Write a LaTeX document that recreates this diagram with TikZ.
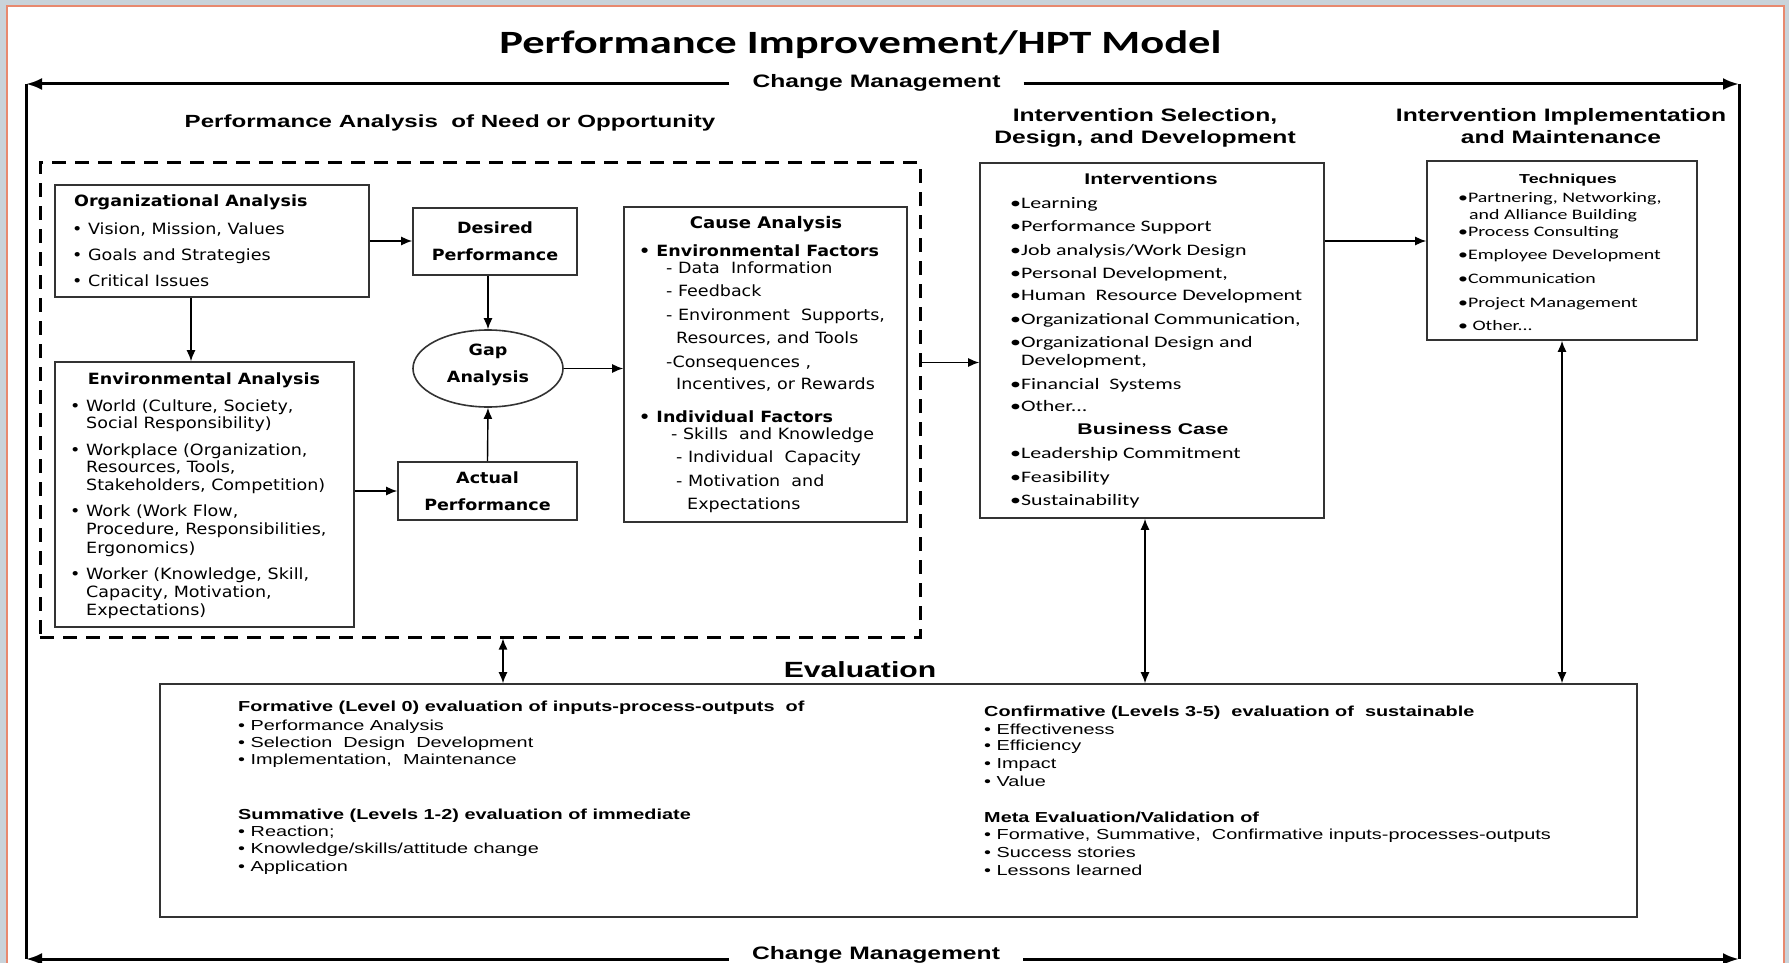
\documentclass[tikz,border=0pt]{standalone}
\usepackage{fontspec}
\usepackage{xcolor}
\usepackage{tikz}
\usetikzlibrary{arrows.meta,positioning,calc,shapes.geometric}

\newfontfamily\vfont{DejaVu Sans}[FakeStretch=1.13]
\newfontfamily\afont{Liberation Sans}[FakeStretch=1.37]
\newfontfamily\cfont{Carlito}[FakeStretch=1.37]

\definecolor{boxgray}{HTML}{333333}
\definecolor{pagebg}{HTML}{C9D3DA}
\definecolor{pageedge}{HTML}{E8896F}

\tikzset{
  box/.style={draw=boxgray, line width=1.6pt, inner sep=0pt},
  dbox/.style={draw=black, line width=3pt, dash pattern=on 14pt off 9pt, inner sep=0pt},
  ln/.style={anchor=west, inner sep=0pt, text height=1.5ex, text depth=.25ex, yshift=-3.5pt},
  hd/.style={anchor=center, inner sep=0pt, text height=1.5ex, text depth=.25ex, yshift=-3.5pt},
  vtxt/.style={font=\vfont\fontsize{15.5}{18}\selectfont},
  vbold/.style={font=\vfont\bfseries\fontsize{15.5}{18}\selectfont},
  ctxt/.style={font=\cfont\fontsize{16}{19}\selectfont},
  atxt/.style={font=\afont\fontsize{14.5}{17}\selectfont},
  abold/.style={font=\afont\bfseries\fontsize{14.5}{17}\selectfont},
  sect/.style={align=center, inner sep=0pt, font=\afont\bfseries\fontsize{18}{22}\selectfont},
  arr/.style={-{Latex[length=11pt,width=9pt]}, line width=1.4pt},
  darr/.style={{Latex[length=11pt,width=9pt]}-{Latex[length=11pt,width=9pt]}, line width=1.4pt},
  cmline/.style={line width=3pt},
  cmarr/.style={line width=3pt, -{Latex[length=16pt,width=12pt]}},
  cmlab/.style={inner xsep=23pt, inner ysep=0pt, font=\afont\bfseries\fontsize{18}{22}\selectfont},
}

\begin{document}
\begin{tikzpicture}[x=1pt, y=-1pt]
  % page
  \useasboundingbox (0,0) rectangle (1789,963);
  \fill[pagebg] (0,0) rectangle (1789,963);
  \filldraw[fill=white, draw=pageedge, line width=2.5pt] (7,6) rectangle (1784,990);

  % title and change management frame
  \node[hd, font=\cfont\bfseries\fontsize{32.5}{38}\selectfont] (title) at (860.5,47.5) {Performance Improvement/HPT Model};
  \coordinate (tl) at (26,84);
  \coordinate (tr) at (1739,84);
  \coordinate (bl) at (26,959);
  \coordinate (br) at (1739,959);
  \node[cmlab] (cmtop) at (876.5,83) {Change Management};
  \node[cmlab] (cmbot) at (876,955) {Change Management};
  \draw[cmline] (tl) -- (bl);
  \draw[cmline] (tr) -- (br);
  \draw[cmarr] (cmtop.west |- tl) -- (tl);
  \draw[cmarr] (cmtop.east |- tr) -- (tr);
  \draw[cmarr] (cmbot.west |- bl) -- (bl);
  \draw[cmarr] (cmbot.east |- br) -- (br);

  % phase headings
  \node[sect, font=\afont\bfseries\fontsize{17.6}{22}\selectfont] (h1) at (450,122.5) {Performance Analysis\ \ of Need or Opportunity};
  \node[sect] (h2) at (1145,128) {Intervention Selection,\\Design, and Development};
  \node[sect] (h3) at (1561,126) {Intervention Implementation\\and Maintenance};

  % performance analysis
  \node[dbox, minimum width=880pt, minimum height=474pt] (pa) at (480,400) {};

  \node[box, minimum width=314pt, minimum height=112pt] (org) at (212,241) {};
  \node[ln, vbold] at (74,200) {Organizational Analysis};
  \foreach \y/\t in {228/{Vision, Mission, Values}, 254/{Goals and Strategies}, 280/{Critical Issues}}
    \node[ln, vtxt] at (72,\y) {\textbullet\ \t};

  \node[box, minimum width=299pt, minimum height=265pt] (env) at (204.5,494.5) {};
  \node[hd, vbold] at (204,378) {Environmental Analysis};
  \foreach \y/\t in {405/{World (Culture, Society,}, 449/{Workplace (Organization,},
                     510/{Work (Work Flow,}, 573/{Worker (Knowledge, Skill,}}
    \node[ln, vtxt] at (70,\y) {\textbullet\ \t};
  \foreach \y/\t in {422/{Social Responsibility)}, 466/{Resources, Tools,}, 484/{Stakeholders, Competition)},
                     528/{Procedure, Responsibilities,}, 547/{Ergonomics)}, 591/{Capacity, Motivation,},
                     609/{Expectations)}}
    \node[ln, vtxt] at (86,\y) {\t};

  \node[box, vbold, align=center, minimum width=164pt, minimum height=67pt] (des) at (495,241.5)
    {Desired\\[9pt]Performance};
  \node[box, ellipse, minimum width=150pt, minimum height=77pt] (gap) at (488,368.5) {};
  \node[vbold, align=center, inner sep=0pt] at ([yshift=3.5pt]gap.center) {Gap\\[9pt]Analysis};
  \node[box, vbold, align=center, minimum width=179pt, minimum height=58pt] (act) at (487.5,491)
    {Actual\\[9pt]Performance};

  \node[box, minimum width=283pt, minimum height=315pt] (cause) at (765.5,364.5) {};
  \node[hd, font=\vfont\bfseries\fontsize{16}{19}\selectfont] at (766,222) {Cause Analysis};
  \foreach \y/\t in {250/{Environmental Factors}, 416/{Individual Factors}}
    \node[ln, vbold] at (639,\y) {\textbullet\ \t};
  \foreach \x/\y/\t in {666/267/{- Data\ \ Information}, 666/290/{- Feedback},
                        666/314/{- Environment\ \ Supports,}, 676/337/{Resources, and Tools},
                        666/361/{-Consequences ,}, 676/383/{Incentives, or Rewards},
                        671/433/{- Skills\ \ and Knowledge}, 676/456/{- Individual\ \ Capacity},
                        676/480/{- Motivation\ \ and}, 687/503/{Expectations}}
    \node[ln, vtxt] at (\x,\y) {\t};

  % intervention selection
  \node[box, minimum width=344pt, minimum height=355pt] (intv) at (1152,340.5) {};
  \node[hd, font=\afont\bfseries\fontsize{15.5}{18}\selectfont] at (1151,178) {Interventions};
  \foreach \y/\t in {202/{Learning}, 225/{Performance Support}, 249/{Job analysis/Work Design},
                     272/{Personal Development,}, 294/{Human\ \ Resource Development},
                     318/{Organizational Communication,}, 341/{Organizational Design and},
                     383/{Financial\ \ Systems}, 405/{Other...},
                     452/{Leadership Commitment}, 476/{Feasibility}, 499/{Sustainability}}
    \node[ln, ctxt] at (1010,\y) {\textbullet\t};
  \node[ln, ctxt] at (1021,359) {Development,};
  \node[hd, font=\afont\bfseries\fontsize{15.5}{18}\selectfont] at (1153,428) {Business Case};

  % intervention implementation
  \node[box, minimum width=270pt, minimum height=179pt] (tech) at (1562,250.5) {};
  \node[hd, font=\afont\bfseries\fontsize{13}{16}\selectfont] at (1568,177) {Techniques};
  \foreach \y/\t in {196/{Partnering, Networking,}, 230/{Process Consulting}, 253/{Employee Development},
                     277/{Communication}, 301/{Project Management}, 324/{\ Other...}}
    \node[ln, font=\cfont\fontsize{14.5}{17}\selectfont] at (1458,\y) {\textbullet\t};
  \node[ln, font=\cfont\fontsize{14.5}{17}\selectfont] at (1469,213) {and Alliance Building};

  % evaluation
  \node[hd, font=\afont\bfseries\fontsize{22}{26}\selectfont] (evlab) at (860,671) {Evaluation};
  \node[box, minimum width=1477pt, minimum height=233pt] (eval) at (898.5,800.5) {};
  \node[ln, abold] at (238,705) {Formative (Level 0) evaluation of inputs-process-outputs\ \ of};
  \node[ln, abold] at (238,813) {Summative (Levels 1-2) evaluation of immediate};
  \foreach \y/\t in {724/{Performance Analysis}, 741/{Selection\ \ Design\ \ Development},
                     758/{Implementation,\ \ Maintenance}, 830/{Reaction;},
                     847/{Knowledge/skills/attitude change}, 865/{Application}}
    \node[ln, atxt] at (238,\y) {\textbullet\ \t};
  \node[ln, abold] at (984,710) {Confirmative (Levels 3-5)\ \ evaluation of\ \ sustainable};
  \node[ln, abold] at (984,816) {Meta Evaluation/Validation of};
  \foreach \y/\t in {728/{Effectiveness}, 744/{Efficiency}, 762/{Impact}, 780/{Value},
                     833/{Formative, Summative,\ \ Confirmative inputs-processes-outputs},
                     851/{Success stories}, 869/{Lessons learned}}
    \node[ln, atxt] at (984,\y) {\textbullet\ \t};

  % arrows
  \coordinate (oe) at ([xshift=-21pt]org.south);
  \coordinate (pin) at ([yshift=-22pt]intv.west);
  \coordinate (tin) at ([yshift=9.5pt]tech.west);
  \coordinate (ev1) at (503,0);
  \coordinate (ev2) at (1145,0);
  \draw[arr] (org.east) -- (org.east -| des.west);
  \draw[arr] (oe) -- (oe |- env.north);
  \draw[arr] (des.south -| gap.north) -- (gap.north);
  \draw[arr] (act.north) -- (gap.south);
  \draw[arr] (act.west -| env.east) -- (act.west);
  \draw[arr] (gap.east) -- (gap.east -| cause.west);
  \draw[arr] (pin -| pa.east) -- (pin);
  \draw[arr] (tin -| intv.east) -- (tin);
  \draw[darr] (ev1 |- pa.south) -- (ev1 |- eval.north);
  \draw[darr] (ev2 |- intv.south) -- (ev2 |- eval.north);
  \draw[darr] (tech.south) -- (tech.south |- eval.north);
\end{tikzpicture}
\end{document}
